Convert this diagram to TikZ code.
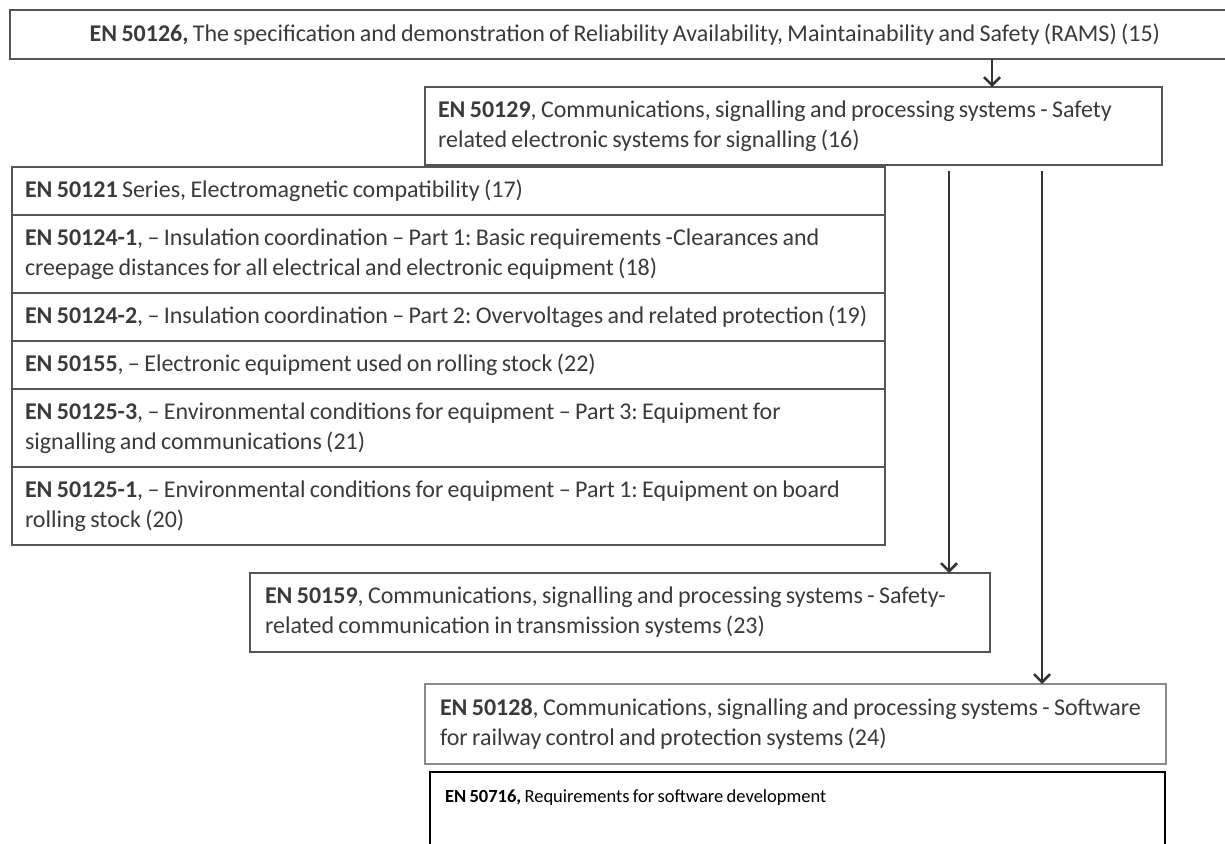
\documentclass[tikz,border=0pt]{standalone}
\usepackage{fontspec}
\setmainfont{Carlito}[WordSpace=0.8]
\usetikzlibrary{positioning,arrows.meta}
\definecolor{txtgray}{HTML}{3A3A3A}
\definecolor{boxgray}{HTML}{555555}
\definecolor{litegray}{HTML}{8A8A8A}
\tikzset{
  stdbox/.style={draw=boxgray, line width=1.4pt, anchor=north west, inner xsep=13pt,
    inner ysep=0pt, outer sep=0pt, align=flush left, text=txtgray,
    font=\fontsize{24}{30}\selectfont\frenchspacing},
  row/.style={stdbox, minimum width=873pt, text width=847pt},
  arr/.style={line width=2.8pt, draw=black!80,
    -{Straight Barb[length=8pt,width=16pt,line width=2.6pt]}}
}
\newcommand{\stdno}[1]{\textbf{#1}}

\begin{document}
\begin{tikzpicture}[x=1pt,y=-1pt]
  \useasboundingbox (0,0) rectangle (1225,843);
  \node[stdbox, minimum width=1230pt, minimum height=49pt, align=center] (rams) at (10,10)
    {\stdno{EN 50126,} The specification and demonstration of Reliability Availability, Maintainability and Safety (RAMS)\ (15)};
  \node[stdbox, minimum width=737pt, text width=711pt, minimum height=78pt] (en129) at (425,87)
    {\stdno{EN 50129}, Communications, signalling and processing systems -\ Safety\\related electronic systems for signalling (16)};

  \node[row, minimum height=48pt] (en121) at (12,167)
    {\stdno{EN 50121} Series, Electromagnetic compatibility (17)};
  \node[row, minimum height=78pt, below=0pt of en121] (en1241)
    {\stdno{EN 50124-1}, -- Insulation coordination -- Part 1: Basic requirements -Clearances and\\creepage distances for all electrical and electronic equipment (18)};
  \node[row, minimum height=48pt, below=0pt of en1241] (en1242)
    {\stdno{EN 50124-2}, -- Insulation coordination -- Part 2: Overvoltages and related protection (19)};
  \node[row, minimum height=48pt, below=0pt of en1242] (en155)
    {\stdno{EN 50155}, -- Electronic equipment used on rolling stock (22)};
  \node[row, minimum height=78pt, below=0pt of en155] (en1253)
    {\stdno{EN 50125-3}, -- Environmental conditions for equipment -- Part 3: Equipment for\\signalling and communications (21)};
  \node[row, minimum height=78pt, below=0pt of en1253] (en1251)
    {\stdno{EN 50125-1}, -- Environmental conditions for equipment -- Part 1: Equipment on board\\rolling stock (20)};

  \node[stdbox, inner xsep=15pt, minimum width=740pt, text width=710pt, minimum height=79pt] (en159) at (250,573)
    {\stdno{EN 50159}, Communications, signalling and processing systems -\ Safety-\\related communication in transmission systems (23)};
  \node[stdbox, draw=litegray, inner xsep=15pt, minimum width=741pt, text width=711pt, minimum height=80pt] (en128) at (425,684)
    {\stdno{EN 50128}, Communications, signalling and processing systems - Software\\for railway control and protection systems (24)};
  \node[stdbox, draw=black, line width=2pt, text=black, inner xsep=15pt, inner ysep=18pt,
    font=\fontsize{18.5}{24}\selectfont, minimum width=735pt, text width=705pt, text depth=70pt] (en716) at (430,772)
    {\stdno{EN 50716,} Requirements for software development};

  \coordinate (a1) at (992,0);
  \coordinate (a2) at (949,0);
  \coordinate (a3) at (1042,0);
  \draw[arr] (a1 |- rams.south) -- (a1 |- en129.north);
  \draw[arr, shorten <=6pt] (a2 |- en129.south) -- (a2 |- en159.north);
  \draw[arr, shorten <=6pt] (a3 |- en129.south) -- (a3 |- en128.north);
\end{tikzpicture}
\end{document}
